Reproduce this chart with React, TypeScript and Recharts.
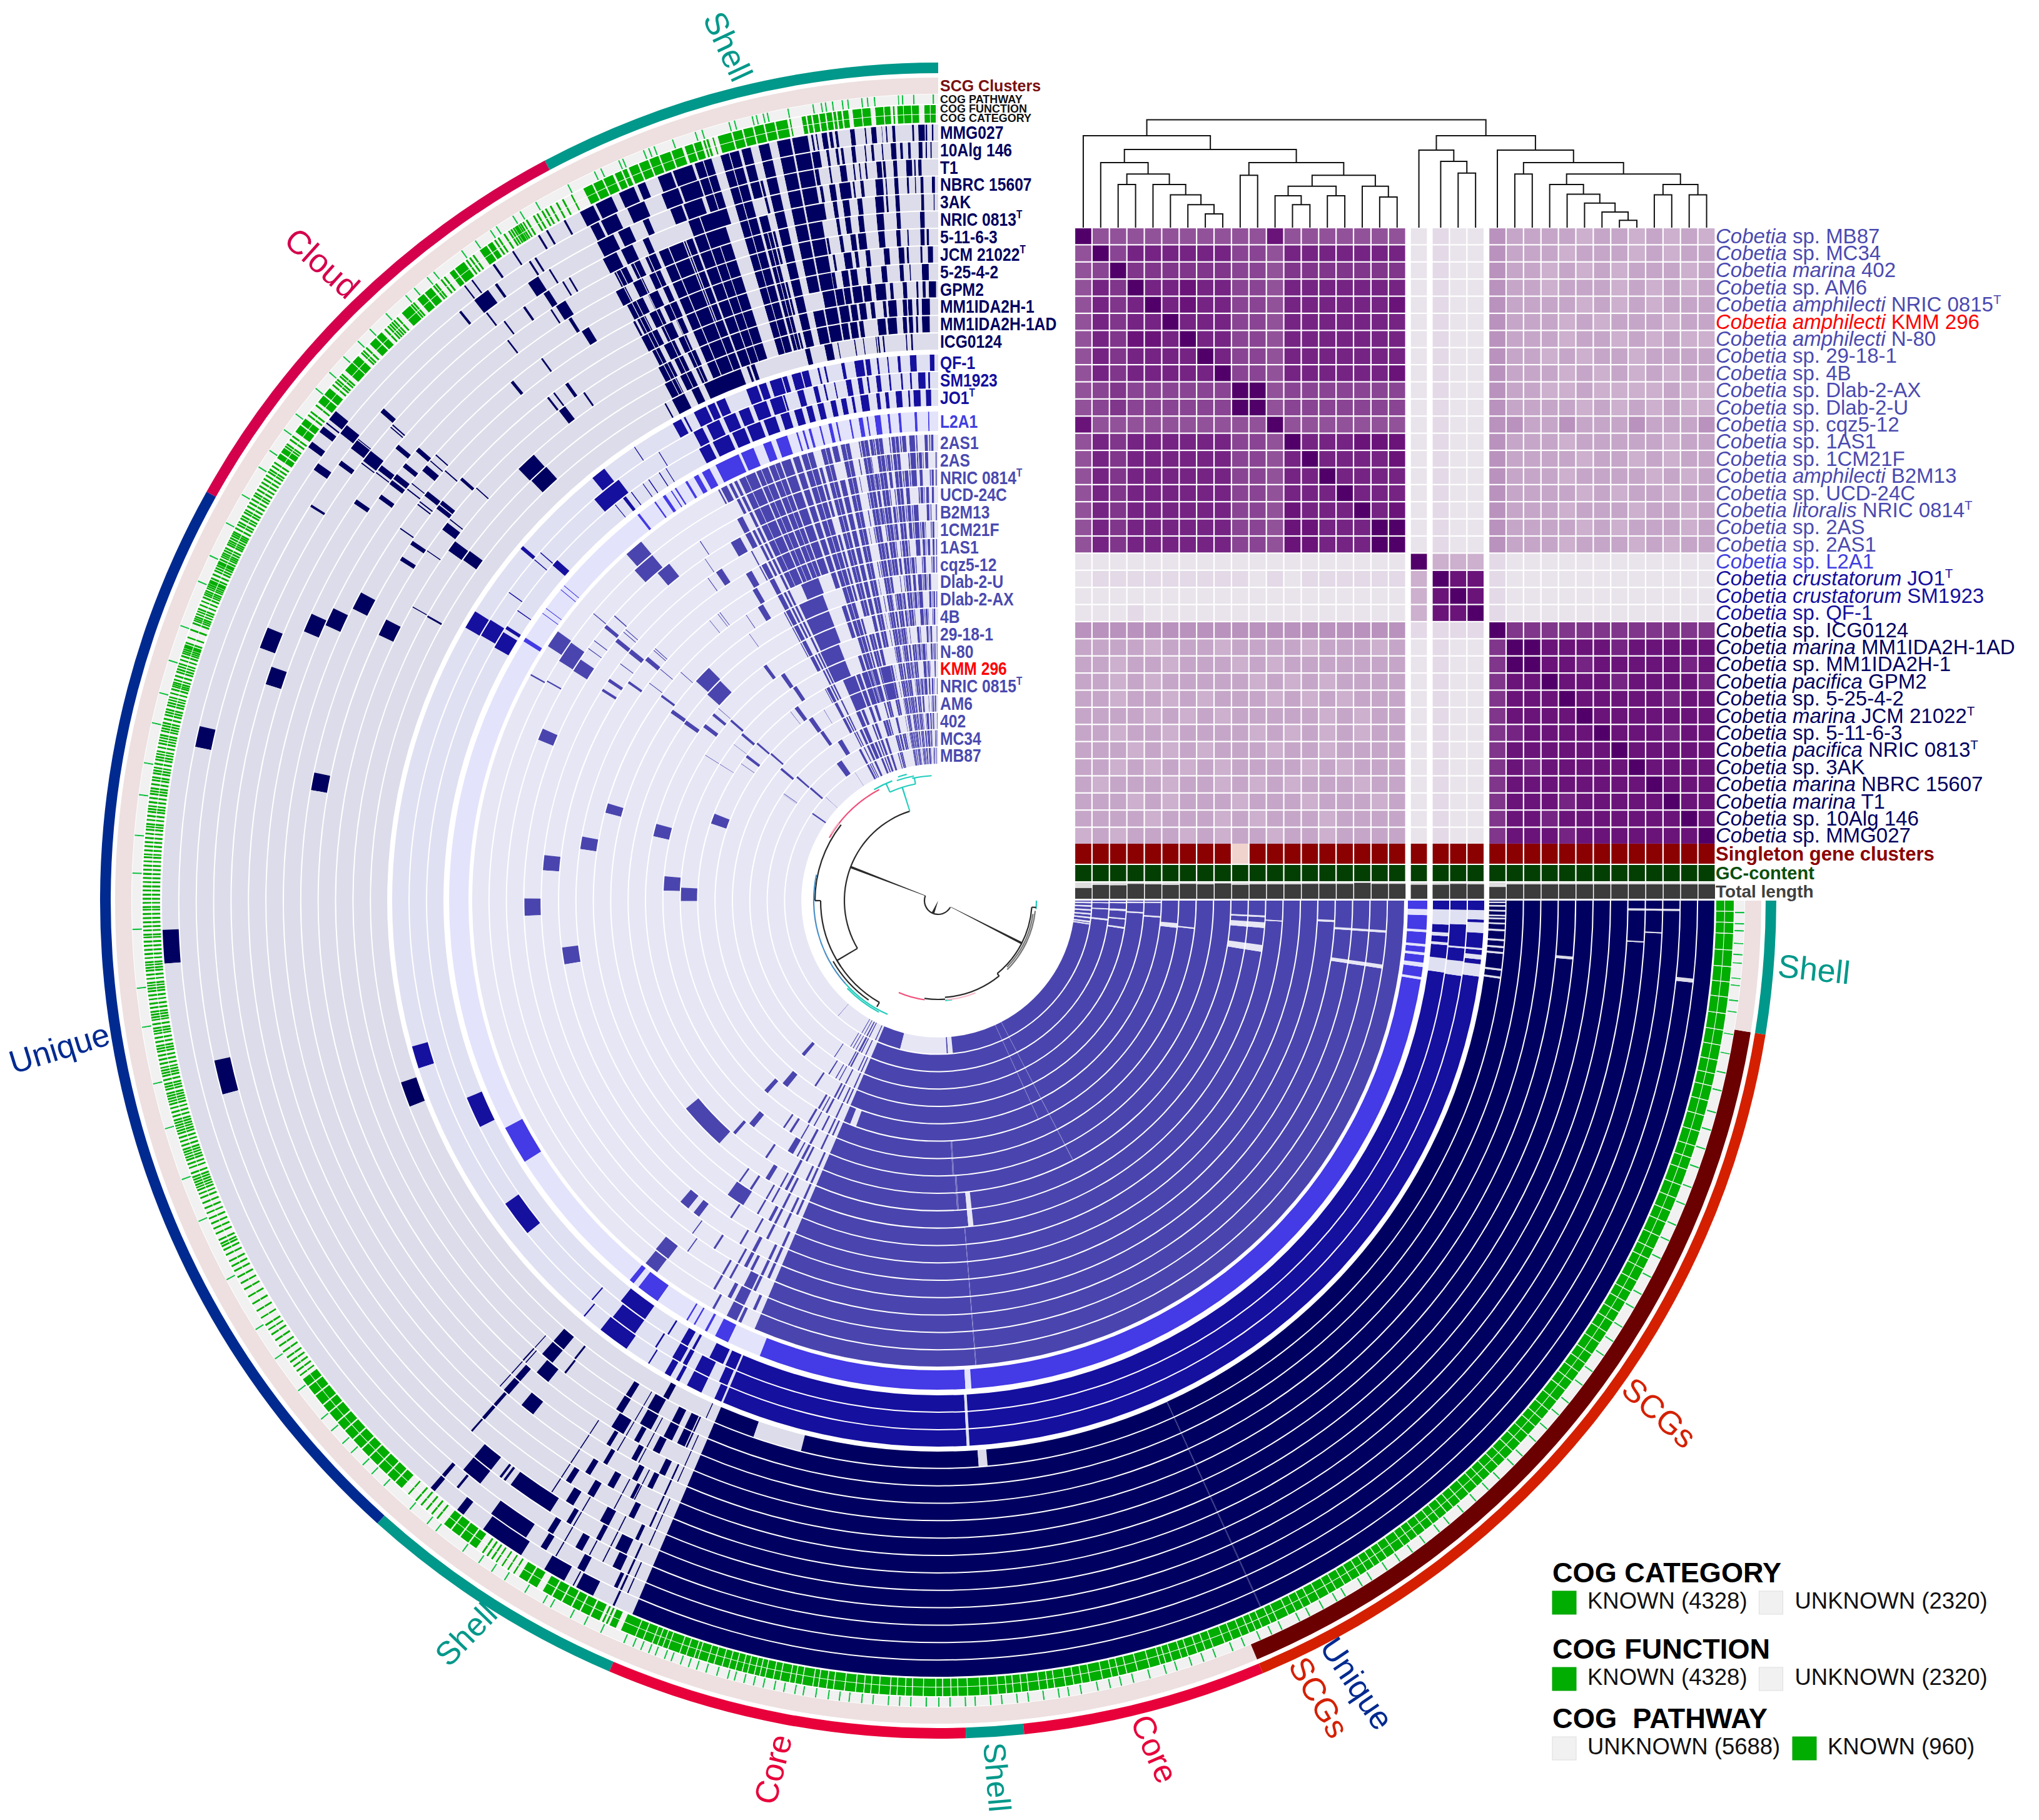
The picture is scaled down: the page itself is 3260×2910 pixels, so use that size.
import React from 'react';
import { PieChart, Pie, ScatterChart, Scatter, XAxis, YAxis, BarChart, Bar } from 'recharts';

// ---------- genomes, outermost ring first ----------
const genomes = ['MMG027','10Alg 146','T1','NBRC 15607','3AK','NRIC 0813^T','5-11-6-3','JCM 21022^T','5-25-4-2','GPM2','MM1IDA2H-1','MM1IDA2H-1AD','ICG0124','QF-1','SM1923','JO1^T','L2A1','2AS1','2AS','NRIC 0814^T','UCD-24C','B2M13','1CM21F','1AS1','cqz5-12','Dlab-2-U','Dlab-2-AX','4B','29-18-1','N-80','KMM 296','NRIC 0815^T','AM6','402','MC34','MB87'];

// ---------- heatmap labels, top row first: [species, strain] ----------
const heatLabels: [string,string][] = [['sp.','MB87'],['sp.','MC34'],['marina','402'],['sp.','AM6'],['amphilecti','NRIC 0815^T'],['amphilecti','KMM 296'],['amphilecti','N-80'],['sp.','29-18-1'],['sp.','4B'],['sp.','Dlab-2-AX'],['sp.','Dlab-2-U'],['sp.','cqz5-12'],['sp.','1AS1'],['sp.','1CM21F'],['amphilecti','B2M13'],['sp.','UCD-24C'],['litoralis','NRIC 0814^T'],['sp.','2AS'],['sp.','2AS1'],['sp.','L2A1'],['crustatorum','JO1^T'],['crustatorum','SM1923'],['sp.','QF-1'],['sp.','ICG0124'],['marina','MM1IDA2H-1AD'],['sp.','MM1IDA2H-1'],['pacifica','GPM2'],['sp.','5-25-4-2'],['marina','JCM 21022^T'],['sp.','5-11-6-3'],['pacifica','NRIC 0813^T'],['sp.','3AK'],['marina','NBRC 15607'],['marina','T1'],['sp.','10Alg 146'],['sp.','MMG027']];

// similarity level per cell (0 = identical, a = most distant)
const heatRows = [
'0555555555515555555 a 9aa 6777787787878',
'5042222224452222222 a 9aa 6777877787877',
'5403333334453333333 a 9aa 6778787877787',
'5230221224452222222 a 9aa 6778777878787',
'5232021224452222221 a 9aa 6777787878777',
'5232202224452222222 a 9aa 6777878777877',
'5231120224452222222 a 9aa 6777877878788',
'5232222024452222222 a 9aa 6778787787777',
'5232222204452222221 a 9aa 6777878787877',
'5434444440054444444 a 9aa 6778878888788',
'5434444440054444444 a 9aa 6777787878788',
'1555555555505555555 a 9aa 6677677767776',
'5232222224450222111 a 9aa 6777877777877',
'5232222224452022221 a 9aa 6777787787877',
'5232222224452202222 a 9aa 6777877778787',
'5232222224452220222 a 9aa 6777787877877',
'5232222224451222021 a 9aa 6777877787787',
'5232222224451122200 a 9aa 6777787877787',
'5232222224451122200 a 9aa 6777877787877',
'aaaaaaaaaaaaaaaaaaa 0 888 9aaaaaaaaaaaa',
'a999999999a9a999999 8 011 9aaaaaaaaaaaa',
'aaaaaaaaaaaaaaaaaaa 8 101 9aaaaaaaaaaaa',
'aaa9aaaaaaaaaaaaaaa 8 110 9aaaaaaaaaaaa',
'6666666666666666666 9 999 0333333333333',
'7777877787777877787 a 9aa 3001111211111',
'7787787778787777777 a 9aa 3001121111121',
'7787877777878787777 a 9aa 3110111211112',
'7787787877787878777 a 9aa 3111011111211',
'7777878787777787877 a 9aa 3111101111111',
'7787787777878787877 a 9aa 3211110111211',
'7778787877787787777 a 9aa 3111111011111',
'7787878787777878777 a 9aa 3121111101111',
'7877787787878777877 a 9aa 3111111110111',
'7778787778777877787 a 9aa 3111211111011',
'7777877787877787777 a 9aa 3112111111101',
'8787778787787787777 a 9aa 3111211111110',
];
const heatLevels: Record<string,string> = {'0':'#520069','1':'#6a147a','2':'#752484','3':'#80368b','4':'#894593','5':'#92529a','6':'#b992bd','7':'#c5a6c8','8':'#ccb0ce','9':'#e3d9e7','a':'#e9e4eb'};

const singletonLevel = [1,1,1,1,1,1,1,1,1,0,1,1,1,1,1,1,1,1,1, 1, 1,1,1, 1,1,1,1,1,1,1,1,1,1,1,1,1];
const totalLengthMb = [2.96,3.82,3.70,4.10,3.99,3.82,4.10,3.99,4.22,3.87,3.99,3.99,3.99,4.10,4.10,4.10,4.39,4.10,4.10, 3.87, 3.87,4.10,3.99, 3.25,3.99,3.99,3.99,3.99,3.99,3.99,3.99,3.99,3.99,3.99,3.99,3.99];

// ---------- genome dendrogram: [left, right, height]; a negative ref is ~index of an earlier merge ----------
const merges: [number,number,number][] = [
[2,3,68.9],[7,8,21.9],[6,~1,36.7],[5,~2,52.6],[4,~3,68.9],[~0,~4,85.7],[1,~5,104],
[9,10,83.7],[12,13,36.7],[11,~8,51],[14,15,51],[~9,~10,66.3],[17,18,49],[16,~12,66.3],[~11,~13,83.7],[~7,~14,104],[~6,~15,125],[0,~16,147],
[21,22,87.2],[20,~18,106],[19,~19,124],
[24,25,85.7],[30,31,11.7],[29,~22,25],[28,~23,39.3],[27,~24,53.6],[26,~25,68.9],[32,33,52.6],[34,35,52.6],[~27,~28,68.9],[~26,~29,85.7],[~21,~30,104],[23,~31,124],[~20,~32,147],
[~17,~33,172.4],
];

// ---------- outer category track: [degrees, colour name] ----------
const trackSpans: [number,string][] = [[28,'teal'],[32.8,'cloud'],[77.2,'unique'],[18.9,'teal'],[25,'core'],[4,'teal'],[16.9,'core'],[58,'scg'],[9.2,'teal']];
const scgSpans: [number,string][] = [[202.8,'pink'],[58,'maroon'],[9.2,'pink']];

// ---------- per-row stripes, flat a0,a1 pairs in degrees from the top, rows 0..12 (navy) ----------
const navyStripes: number[][] = [
[.36,.47,.81,.93,1,1.48,1.79,1.94,3.2,3.42,3.8,3.9,4.15,4.2,4.6,4.98,5.35,5.45,6.2,6.53,7.45,7.65,7.85,8.1,8.25,8.65,9,9.1,9.3,9.45,18.5,20,20.15,21.2,22.2,22.8,23.1,24.3,24.9,26.2,26.4,27.5,28.7,28.85,30.2,30.35,30.9,31.05,33.15,33.3,34.9,35.05],
[.5,.6,.85,.95,1.2,1.5,2.1,2.3,2.7,2.9,3.2,3.6,4.2,4.3,4.9,5.1,5.5,5.6,6.3,6.6,7.2,7.4,7.6,7.8,8.3,8.5,9,9.6,18.4,19.9,20.05,21.4,22.8,24.2,25.1,26.4,26.6,27.3,32,32.15,32.5,32.65,35.6,35.75,39,39.15],
[1.3,1.55,1.75,1.87,2.05,2.5,3.2,3.5,4.1,4.3,4.4,4.8,5.55,5.7,6.05,6.15,6.5,6.62,7.15,7.65,8.35,8.5,9.3,9.6,18.6,20.1,20.25,21.2,23,23.5,24.6,25.6,26,27.4,31.55,31.7,32.7,33.6,37.45,37.6],
[.25,.5,1.17,1.42,1.78,1.85,2.33,2.5,3.17,3.5,4.1,4.2,4.4,5,5.94,6.2,6.65,6.8,7,7.87,8.2,8.67,9.2,9.45,23.6,24.1,25,26,26.4,27.6,30.55,30.7,31.15,31.3,32.55,33.05,34.8,35,36.75,36.9],
[.3,.38,1.16,1.4,3.16,3.5,4.1,4.27,4.45,5.13,6.2,6.6,7.25,7.8,8.25,8.6,9.3,9.7,23.6,24.5,25,25.8,26.2,27.3,31.85,32.75,33.15,33.3,37.45,37.6],
[1.14,1.52,3.15,3.5,4.55,5.16,6.24,6.7,7.34,7.8,8.27,8.54,23.8,24.8,25.4,26.3,27,27.9,32.15,32.45],
[.8,1,1.17,1.53,2.55,2.65,3.24,3.6,4.6,5.13,6.2,6.88,7.07,7.54,8.2,8.5,9.4,9.6,23.7,24.2,24.7,25.6,26.1,27.6,31.35,32.05,36.1,36.25,39.25,39.55],
[.46,.92,1.39,1.57,2.6,2.77,3,3.5,4.3,4.8,6,6.4,7.06,7.35,7.65,8.33,9.1,9.3,23.6,24.8,25.2,26.2,26.6,27.4,27.6,27.8],
[.85,1.48,2.5,2.6,3.13,3.5,4.66,5.16,6.16,6.56,7.36,7.96,8.16,8.76,9.36,9.66,23.7,24.3,24.7,25.8,26.2,27.8,35.55,35.85,37.7,37.9,37.05,37.2],
[.2,.88,1.17,1.46,1.85,2.05,2.92,3.3,4.2,4.5,4.9,5.85,6.3,7,7.16,8,8.2,8.8,8.9,9.6,9.7,10.8,24,24.8,25.2,26.3,26.7,27.5,34.8,34.95],
[.8,1.57,1.9,2.1,2.5,2.9,3,3.4,4,4.8,5,5.3,6.1,6.5,6.94,7.58,7.8,8.4,8.6,9.5,23.8,24.6,25.1,26,26.4,27.7],
[.83,1.6,2,2.2,2.5,2.9,3.1,3.5,4.1,5,5.2,5.5,5.4,6,7.37,7.8,8,8.7,8.9,9.55,23.9,24.5,25,26.2,26.6,27.9],
[2.6,2.78,3.17,3.3,5.5,5.66,6,6.15,6.25,6.35,7.55,7.65,8.45,8.55,10.15,10.25,10.8,11.6,13.1,13.6,18.9,19.3,19.5,19.75,20.4,24.4,25,25.8,26.6,28,28.7,28.85],
];
// ---------- columns shared by rows: a0, a1, one mark per row ----------
const navyColumns: [number,number,string][] = [
[9.7,10.85,'1111111110110'],[11,12,'1111111110110'],[12.6,13.4,'1111111111110'],[13.7,13.9,'0011011011010'],
[14,14.7,'1110111111110'],[14.9,16.3,'1111111111110'],[17,18.3,'1111000000000'],[17.5,20.2,'0001111111110'],[20.35,23.3,'0000111111110'],
[137.9,138,'0000000111100'],[146.8,146.9,'0000111110000'],[149.7,149.8,'0111110011110'],[151.9,152,'1110111011100'],[153.05,153.15,'1011101101100'],[155.2,155.35,'1111011110110'],[155.8,155.9,'0110111011101'],
];
const navyMarks: [number,number,number][] = [
[1,36.4,1.3],[0,37.55,.12],[0,36.85,.12],[0,34.85,.12],[0,33.15,.15],[1,38.95,.12],[2,37.45,.12],[3,36.75,.12],[4,37.45,.12],[1,35.55,.12],[3,34.85,.12],[6,36.15,.12],[6,39.25,.3],
[2,32.65,.9],[3,32.55,.5],[4,31.85,.9],[4,33.15,.12],[5,32.15,.3],[6,31.35,.7],[3,30.55,.12],[3,31.15,.12],[2,31.55,.12],[9,37.05,.7],[8,37.75,.12],[8,37.05,.12],[8,35.55,.3],[9,34.85,.12],
[10,42.2,2],[11,42.1,2],[0,50.9,.8],[0,51.95,.12],[0,52.35,.5],[0,53.75,.5],[1,54.8,.6],[1,51.2,.8],[2,53.6,.4],[2,51.6,.8],[2,51.45,.08],[2,48.4,.4],[3,48.85,.12],[3,49.1,.1],[3,51.6,1],[3,52.75,.1],
[4,51.95,.5],[4,52.65,.1],[4,49.8,.4],[5,52.4,.4],[5,51.75,.5],[5,50.6,.4],[5,48.9,.4],[6,51.55,.12],[6,49.6,.6],[6,49.05,.12],[6,48.35,.12],[7,48.85,.12],[8,48.35,.3],[9,48.15,.12],[6,52.15,.12],
[7,51.25,.5],[7,52.35,.12],[7,52.65,.12],[8,51.1,.4],[8,51.6,.4],[9,52.4,.8],[9,51.95,.12],[10,53.35,1.1],[11,53.25,1.1],[9,55.55,.12],[8,55.6,.4],[7,55.25,.12],[8,57.3,.4],[5,53.9,.4],[4,55.4,.4],[2,57.7,.2],
[7,61.9,1.6],[6,64.2,1.6],[5,65.4,1.6],[9,63,1.6],[3,67.85,1.7],[4,70.65,1.5],[1,76.7,1.6],[8,78.4,1.6],[0,92.15,2.5],[2,102.45,2.7],[12,108.7,2.6],[10,60.75,.1],[11,60.8,.2],
[11,138.85,1.3],[10,138.85,1.3],[9,139.6,1.4],[7,140.45,1.3],[11,141.5,.2],[10,141.6,.2],[11,147.7,.6],[10,147.65,.7],[9,148.15,1.3],[12,151,.6],[11,150.2,1.2],[10,150.3,1.2],
[11,152.9,.8],[10,152.85,.9],[9,152.55,.7],[11,154.3,.8],[10,154.3,.8],[9,150.6,.5],[8,151.2,.5],[8,154,.6],[7,152.1,.5],[7,153.6,.5],[6,150.5,.6],[6,152.7,.3],[5,149.4,.6],[5,153.3,.5],[4,151.4,.8],[4,154.6,.3],
[3,153.5,1],[2,153.95,.7],[1,154.7,.3],[0,152.2,1.4],[0,149.5,1.7],[3,143.8,3.8],[1,143.9,3.2],[0,144.1,3.4],[2,140.15,1.7],[3,140.15,1.7],[3,142.7,.2],[3,143.1,.2],[1,139.15,.3],[0,139.15,.4],[1,140.6,.2],[0,141.7,.6],
[6,138.55,.3],[5,138.55,.3],[4,138.6,.15],[8,138.4,.6],[7,138.4,.6],[9,137.85,.12],[9,138.2,.1],[2,148.2,.5],[3,149.1,.4],[1,148.4,.5],[2,150.7,.6],[3,151.8,.4],[1,151.6,.6],[4,148.2,.7],[5,147.3,.5],[6,148.3,.5],[7,149.2,.4],[8,148.6,.4],
];
const blueStripes: number[][] = [
[.4,.9,2.3,3,4,4.3,5.25,5.4,6.3,6.5,7.2,7.7,7.9,8.85,9.9,10.25,11.9,12.1,12.6,12.8,13.75,14.5,14.6,15.6,16.1,16.6,16.7,18,18.4,19.2,19.4,20.6,23,24,24.2,25,25.2,26.6,27.6,27.8,28.1,29.1,33.75,33.85],
[.9,1.1,1.4,2.2,2.9,3.1,3.9,4.1,5.2,5.4,6.3,6.8,7.6,7.8,8.3,8.8,9.5,10.1,11.25,11.4,12.35,12.55,13.2,13.7,14.8,15.5,16.9,17.1,17.2,18.6,19,20.5,21,22.2,22.6,24,24.5,26,26.5,27.6,31.85,31.95,39.2,40.6,37.2,39.4],
[.8,1.4,2,2.8,3.2,3.4,4.1,4.8,5.6,6,6.6,7,7.9,8.8,9.5,9.8,10.4,11,11.6,12.2,13,13.7,14.3,15,15.5,16.4,17,18,18.6,20,20.4,22,22.3,23.8,24.2,26.2,26.6,27.9,32.15,32.25,33.05,33.15,34.45,34.55,35.25,35.35,36.85,36.95,37.7,38.1,39.15,39.25],
];
const lightStripes = [1.05,1.2,2.5,2.8,4.4,4.7,5.7,5.95,6.8,7.5,8.25,8.45,8.9,9.4,10.3,10.5,11.9,12.1,12.6,13,13.9,14.1,15.1,15.4,15.9,16.15,16.7,16.9,18,19.4,20,21,22.2,23.8,24.1,27.1,29.4,30,27.9,28.9,30.85,31.15,32.4,32.6,33,33.15,33.9,34.3,35.3,35.5,37.65,37.95,49.85,49.95,50.45,50.55,53.25,53.35,53.95,54.05,57.5,58,117.7,122.3,140.9,141.5,142.2,145,152.85,154.55,156.2,157.5,149,149.2,150,150.2,151.5,151.8];
const slateColumns: [number,number,string][] = [
[.6,.9,'1011011101101101011'],[1.3,1.7,'1101101011011011101'],[2.1,2.5,'0111011110110110110'],[2.9,3.6,'1110111011101110111'],[4,4.5,'1011110111011011011'],
[4.9,5.8,'1111111111101111111'],[6.2,6.6,'0110110101101101110'],[6.9,7.8,'1111111101111111111'],[8.1,8.5,'1011101110110111011'],[8.7,9.6,'1111111111111111111'],
[.2,.35,'0110101101011010110'],[1,1.15,'1010110101101011010'],[1.9,2,'0101011010110101101'],[2.6,2.75,'1101010110101101011'],[3.7,3.85,'0110110101011010110'],[4.6,4.75,'1010101101101010101'],[5.95,6.1,'1101101010110110101'],[6.65,6.8,'0101011011010101101'],[7.9,8.05,'1010110101011011010'],[8.55,8.65,'0110101011011010110'],[9.7,9.85,'1001010100101001010'],[10.1,10.25,'0100100101010010100'],[10.5,10.6,'0010010010100100010'],
[11,12.1,'1111111111110111010'],[12.5,13.2,'1011111111111110110'],[13.5,14.6,'1111111111011111011'],[15,15.4,'0111011110111011101'],[15.6,17.1,'1111111111111110100'],[17.4,18.2,'1111111101101111011'],
[18.5,19.7,'1111111000000000000'],[19.85,21.3,'1111111000000000000'],[21.45,23,'1111111000000000000'],[23.15,25.3,'1111111000000000000'],
[20.4,23.5,'0000000100000000000'],[20.7,25.2,'0000000011100000000'],[21.2,25.4,'0000000000011000000'],[12,17,'0000000000000110000'],[17.2,20,'0000000000000110000'],[20.3,23.4,'0000000000000110000'],
[19,19.8,'0000000000000001111'],[20.2,20.7,'0000000000000000111'],[21.2,22,'0000000000000001011'],[22.4,23.6,'0000000000000001110'],[24,24.8,'0000000000000000111'],
[25.6,26,'1111111111111111111'],[26.3,26.7,'1101110111011101101'],[27,27.8,'1011011111110111011'],[28,28.2,'1000110011100100000'],
[149.9,150.2,'0110101100110101011'],[151,151.3,'1011010110101101011'],[152,152.5,'0101101011110110111'],[153,153.4,'1101011110101011011'],[154.6,155,'1011101101011110110'],[155.6,156,'0101110111101011101'],
];
const slateMarks: [number,number,number][] = [
[17,39.6,2.4],[18,39.6,3],[19,38.6,2],[20,28.6,1.5],[21,33.1,1],[22,29.5,1],[23,30.1,.8],[24,30.6,1],[19,33.45,.12],[20,34.25,.12],[21,35.45,.12],[23,37.1,.12],[23,37.5,.1],[24,33.85,.12],[23,39.15,.12],[25,35.25,.12],
[27,36.05,.7],[28,34.05,.9],[29,33.45,.9],[30,35.8,1],[31,34.4,1.2],[33,30.85,1.5],[34,34.6,2],[30,37.95,.12],[31,30.85,.12],[32,34.1,1],[35,32.95,.12],
[17,54.7,2.2],[18,54.9,2.8],[19,56,1.8],[17,60.9,.2],[18,60.6,.2],[21,55.95,.5],[21,57.7,.4],[22,54.6,.4],[19,52.85,.12],[19,54.15,.12],[19,50.25,.5],[20,50.7,.6],[21,50.65,.7],[22,49.95,.7],[20,49.45,.12],[22,48.25,.12],[21,53.25,.12],[23,50.15,.12],[23,52.95,.12],[24,53.3,.4],[25,54.25,.7],[26,54.4,.8],[27,52.8,.8],[25,44.55,3.3],[26,44.75,3.5],[24,48.35,.12],
[27,50.1,.6],[27,48.75,.12],[28,48.75,.5],[29,49.4,.6],[29,52.55,.12],[30,48.75,.5],[30,52.65,.7],[31,48.45,.5],[32,49.65,.7],[33,48.5,.6],[34,48.25,.7],[35,47.35,.12],[33,55.2,.2],[33,55.6,.1],[35,55,.6],[30,55.15,.12],[28,57.95,.12],[29,57.95,.12],[19,48.6,.15],[18,50.15,.12],[20,49,.12],[22,48.6,.12],
[19,66.5,1.6],[24,73.6,1.6],[23,79.8,2],[21,83.4,2.2],[27,74.75,2.5],[20,89.7,2.4],[22,97.1,2.6],[28,84.9,3],[29,87.1,3],[30,68.75,2.5],
[25,129.5,8.5],[21,139.45,1.5],[21,141.9,1],[23,144.4,3],[18,141,2],[17,141.1,1.8],[27,139.7,1.2],[30,139.55,1.5],[29,137.5,1],[32,138.3,1],[26,138.5,.6],[27,149,1],[25,148.1,.8],[19,153.2,1.2],[18,153.2,1.2],[17,153.25,1.1],
[34,148.9,.3],[33,146.3,.3],[35,139,.15],[34,152.3,.4],[35,153,.3],[33,151.3,.4],[32,147.6,.4],[31,146.2,.5],[30,150,.4],[29,149.5,.5],[28,147.2,.5],[28,145.6,.4],[26,146,.4],[24,144.6,.3],[22,146.7,.3],[20,147.1,.3],[24,146.8,.4],[20,143.5,.15],[19,144.4,.15],
];
// pale breaks: rowFrom, rowTo, a0, a1
const coreGaps: [number,number,number,number][] = [
[35,35,165.6,183.2],[35,35,183.7,185.5],[35,35,269,269.6],[35,35,267.7,268.3],[35,35,266.2,266.8],[35,35,264.7,265.3],[35,35,263.3,263.9],[35,35,261.8,262.4],[35,35,261,261.5],
[34,34,269.1,269.5],[34,34,267,267.4],[34,34,263.3,263.9],[33,33,269.2,269.6],[33,33,266.8,267.4],[33,33,264.2,264.6],[33,33,261.4,261.9],[32,32,269.3,269.7],[32,32,266.4,266.8],[31,31,269.4,269.7],[31,31,265.6,266],
[30,30,158.5,160],[30,30,263.5,264.6],[29,29,263.7,264],[25,26,265.2,266.2],[25,26,267.1,267.4],[25,26,261,262.2],[24,24,266.5,266.7],[18,20,265.9,266.2],[18,20,261.3,261.8],[21,21,266.9,267.2],
[16,16,268.3,269],[16,16,266.3,266.6],[16,16,264.6,264.9],[16,16,263.6,263.9],[16,16,262.2,262.7],[16,16,260.7,261],[16,16,183.2,183.9],[16,16,156,158.6],
[15,15,267.3,269],[15,15,266,266.4],[15,15,265,265.3],[15,15,261.9,263.5],[14,14,267.4,269],[14,14,264.8,265],[14,14,261.8,263.4],[13,13,268,269],[13,13,266.6,267.7],[13,13,264.8,265],[13,13,263.8,264.3],[13,13,262,263.3],[13,15,183,183.3],
[12,12,161,166],[12,12,184.1,185],[12,12,269.75,269.9],[12,12,269.4,269.55],[12,12,268.9,269.05],[12,12,268.4,268.55],[12,12,268.1,268.25],[12,12,267.6,267.75],[12,12,266.9,267.1],[12,12,265.9,266.1],[12,12,265.2,265.4],[12,12,264.6,264.8],[12,12,262.9,263.1],[12,12,262.1,262.3],
[8,8,264.7,264.95],[1,1,263.8,264.1],[2,4,269.2,269.35],[4,4,266.6,266.7],[3,3,267.4,267.5],
[25,26,185.3,186.2],
[3,11,19.2,19.28],[4,11,21.1,21.18],[4,11,22.4,22.48],[4,8,20.9,20.98],[0,11,15.6,15.66],[0,2,17.6,17.66],[5,11,18.4,18.46],[4,11,24.2,24.26],[4,11,25.5,25.56],[4,11,26.7,26.76],[4,11,27.1,27.16],[5,11,14.3,14.35],
[17,35,5.3,5.36],[17,35,7.35,7.4],[17,35,9.15,9.2],[17,35,16.3,16.38],[17,35,11.5,11.56],[17,35,14,14.06],[17,23,22.3,22.36],[17,23,24.4,24.46],[17,23,20.5,20.56],[30,31,14.4,14.9],[30,31,18.6,19],[30,31,16,16.1],
];
// barely visible radial hairlines through the core: rowFrom, rowTo, a0, a1
const faintLines: [number,number,number,number][] = [[27,35,207.4,207.5],[30,35,204.6,204.7],[0,12,204.5,204.58],[28,29,183,183.3],[26,27,183.5,183.8],[17,24,184.6,184.7]];
// ---------- COG rings: runs a0,a1 near the top and in dense stretches, thin marks elsewhere, thin breaks through the core ----------
const cogRuns = [.18,.55,.6,1,1.4,1.9,1.95,2.5,2.55,2.96,3.15,3.27,3.45,3.9,3.95,4.56,4.9,5.5,5.55,6.2,6.5,6.9,7,7.3,7.4,7.6,7.7,8.1,8.2,8.6,8.7,9.1,9.2,9.5,9.6,9.9,10.7,10.8,10.95,11.8,11.9,12.6,12.7,13.4,13.5,14.2,14.3,15,15.1,16.1,16.4,16.5,16.8,16.95,17.05,17.2,17.35,17.9,18,18.6,18.8,19.6,19.7,20.5,20.6,21.3,21.4,22.1,22.2,22.9,23.05,23.4,23.5,24,24.15,24.9,25,25.7,25.8,26.5,34.1,34.5,34.6,35.2,36.6,37.4,37.5,37.9,39.6,40.2,40.3,40.9,41.6,42.4,44.4,44.9,45,45.6,46.8,47.4,47.45,48.2,49.9,50.5,50.6,51.2,52.7,53.2,53.3,53.9,55.3,55.7,55.8,56.2,127,127.6,127.7,128.4,128.5,129.3,129.4,130,130.1,130.9,131,131.7,131.8,132.6,132.7,133.5,133.6,134.3,134.4,135.2,135.3,136.1,136.2,136.9,137,137.6,141.6,142.2,142.3,143,143.1,143.8,143.9,144.5,148.2,148.9,149,149.7,150.2,150.9,151,151.7,151.8,152.5,152.6,153.2,153.3,154,154.1,154.8,155.6,156.1];
const cogMarks = [27.4,28.1,28.6,29.1,29.5,29.8,30.2,30.5,31.1,31.4,31.6,31.75,31.9,32.05,32.2,32.4,32.6,33,33.5,33.8,35.7,36,36.3,38.3,38.6,39.1,39.3,41.2,41.4,42.8,43.1,43.3,43.5,43.7,44,45.9,46.2,46.4,48.5,48.7,49,49.2,49.5,51.4,52,52.3,54.2,54.5,54.9,55.1,56.5,56.8,57.1,57.3,57.6,57.9,58.2,58.5,58.8,59.1,59.3,59.6,59.9,60.2,60.5,60.7,61,61.2,61.5,61.7,62,62.3,62.45,62.6,62.8,63,63.15,63.3,63.6,63.8,64,64.15,64.3,64.5,64.7,64.85,65,65.2,65.4,65.7,66,66.2,66.35,66.5,66.65,66.8,67,67.15,67.3,67.5,67.8,68.1,68.4,68.6,68.8,69,69.15,69.3,69.5,70,70.6,71,71.2,71.35,71.5,71.65,71.8,72,72.3,72.6,72.8,73,73.2,73.5,73.8,74,74.15,74.3,74.5,74.8,75.1,75.3,75.5,75.7,76,76.2,76.4,76.7,77,77.2,77.4,77.6,77.9,78.1,78.3,78.5,78.8,79.1,79.3,79.5,79.7,80,80.3,80.5,80.7,81,81.2,81.5,81.8,82,82.2,82.5,82.8,83.1,83.3,83.5,83.8,84.1,84.4,84.6,84.8,85.1,85.4,85.7,86,86.3,86.6,86.8,87.1,87.4,87.7,88,88.3,88.6,88.9,89.2,89.5,89.8,90.1,90.4,90.6,90.9,91.2,91.5,91.8,92.1,92.4,92.6,92.9,93.2,93.5,93.8,94.1,94.4,94.6,94.8,95,95.3,95.6,95.9,96.1,96.3,96.5,96.8,97.1,97.4,97.7,98,98.2,98.4,98.6,98.9,99.2,99.4,99.6,99.9,100.2,100.5,100.7,100.9,101.2,101.5,101.8,102.1,102.3,102.5,102.7,103,103.3,103.5,103.7,104,104.2,104.4,104.6,104.8,105.1,105.4,105.7,106,106.2,106.4,106.6,106.8,107,107.3,107.6,107.9,108.2,108.4,108.6,108.8,109,109.3,109.6,110,110.3,110.5,110.7,110.9,111.1,111.3,111.6,111.9,112.3,112.7,113.1,113.5,113.9,114.3,114.7,115.2,115.5,115.7,116,116.4,116.9,117.3,117.7,118.2,118.7,119.2,119.8,120.4,121,121.6,122.2,122.6,123,123.5,124,124.5,125,125.4,125.8,126.2,126.6,138.2,138.9,139.4,139.9,140.4,140.9,145,145.4,145.8,146.2,146.7,147.2,147.7,155,155.3];
const cogCoreBreaks = [157.6,158.2,158.9,159.3,159.7,160.1,161,161.5,162.1,162.4,163.1,163.6,164.2,164.7,165.2,165.7,166.1,166.6,167,167.4,168,168.5,169.2,169.6,170.1,170.9,171.3,171.9,172.4,173.2,174,174.6,175.1,175.7,176.5,177,177.6,178.1,178.9,179.8,180.3,180.9,181.4,182.1,183,183.6,184.3,184.9,185.4,186,186.5,187.3,187.9,188.4,189.2,189.8,190.4,191,191.9,192.6,193.1,193.7,194.5,195.4,196.2,196.6,197.1,197.8,198.3,199,199.6,200.2,201.1,201.7,202.4,203,203.5,204,204.7,205.2,206.1,206.7,207.3,207.9,208.6,209.4,210,210.7,211.3,212,212.6,213.2,213.7,214.3,215,215.8,216.4,217,217.7,218.4,219,219.7,220.3,221,221.8,222.6,223.2,223.9,224.7,225.4,226.2,227,227.8,228.6,229.3,230.1,231,232,232.8,233.6,234.4,235.2,236.2,237.1,238,238.8,239.7,240.5,241.4,242.4,243.2,244,245,246.1,247,248,249,250.2,251.1,252,253.1,254.3,255.4,256.5,257.4,258.4,259.5,260.6,261.8,263,264.1,265.2,266.4,267.6,268.4,269.2];
const pathwayMarks = [.3,1.7,2.5,2.8,4.5,5,5.4,6.4,6.8,7.5,8,8.3,8.9,10.7,12.2,12.5,13,13.3,14.6,15,17,17.5,19.2,20.6,21,21.4,23,23.3,24.7,25.2,27.3,29.9,31.2,31.8,33.2,33.7,35,36.2,38.7,39.3,40.5,41.3,43.2,44.8,46,47.5,49,50.5,52.8,54.2,56,57.4,59.7,62,64.6,66.6,70,72.6,75,77.2,80.1,82.4,85.3,88,92,96.2,99,103.1,106.4,110.2,113.4,118,122.1,124.6,127.4,130,131.1,132.3,133.2,134.4,135.3,136.5,139,140.6,141.4,143.8,145.2,146.3,147.4,149.1,150.6,151.2,152.8,153.9,155.2,157,157.7,158.3,158.9,159.4,160.1,160.6,161.3,161.9,162.5,163.2,164,164.8,165.3,166,166.7,167.4,168.2,168.9,169.7,170.3,171.2,172.1,172.9,173.6,174.5,175.3,176.4,177.2,178,179.1,180,180.8,181.9,182.6,183.7,184.5,185.6,186.4,187.5,188.6,189.3,190.2,191.4,192.3,193.1,194,195.2,196.4,197.2,198.3,199.2,200.1,201.4,202.3,203.5,204.4,205.2,206.6,207.4,208.5,209.6,210.3,211.7,212.5,213.8,214.9,216,217.1,218.4,219.3,220.6,221.8,223,224.1,225.5,226.4,227.8,229,230.3,231.4,233,234.2,235.6,236.8,238,239.6,240.7,242.1,243.6,245,246.2,247.8,249.1,250.6,252,253.4,254.7,256.3,257.6,259,260.4,262,262.8,263.9,264.4,265.5,266.1,266.9,267.8,268.3,269.1];
// ---------- pan-gene cluster tree at the centre: [depth, from, to, colour name] and [angle, depth0, depth1, colour name] ----------
const treeArcs: [number,number,number,string][] = [
[22,69,241,'ink'],[150,17.7,120.6,'ink'],[188,120,150,'ink'],[197,52,90,'ink'],[188,90,124,'ink'],[194,120,145,'ink'],[150,219,266,'ink'],[155,184,219,'ink'],[158,172,184,'ink'],[156,225,264,'grey'],[153,226,262,'grey'],
[190,11,24,'aqua'],[200,3,12,'aqua'],[205,21,30,'aqua'],[203,11,19,'aqua'],[208,14,18,'aqua'],[199,132,156,'aqua'],[202,134,152,'aqua'],[157,265,270,'aqua'],[160,184,188,'aqua'],
[201,28,60,'rose'],[160,156.8,172.2,'rose'],[159,185,202,'paleRose'],[199,78,132,'steel'],[202,52,58,'paleRose'],
];
const treeSpokes: [number,number,number,string][] = [[157.4,0,22,'ink'],[69,22,150,'ink'],[243,22,150,'ink'],[17.6,150,190,'aqua'],[120.6,150,188,'ink'],[90,188,197,'ink'],[150,188,196,'ink'],[219,150,155,'ink'],[266,150,157,'ink'],[24,190,205,'aqua'],[11,190,200,'aqua']];

const paint: Record<string,string> = {teal:'#00988a',cloud:'#d4004c',unique:'#002a90',core:'#e8003a',scg:'#d42000',pink:'#eee0e0',maroon:'#6b0000',ink:'#2a2a2a',grey:'#777777',aqua:'#22cdbd',rose:'#f0507a',paleRose:'#f8b8c8',steel:'#4a90c8'};

// ---------- geometry ----------
const CX = 1500, CY = 1440, CELLS = 50, SWEEP = 270;
const rowGroup = (i:number) => i<13?0:i<16?1:i===16?2:3;
const groupBase = ['#dcdcea','#dfe0f2','#e3e4fb','#e6e6f5'];
const groupFill = ['#000060','#16109f','#443ae6','#4a45ae'];
const groupFaint = ['#2a2a80','#3a36b0','#6a60ee','#7672c4'];
const labelFill = ['#00005f','#14109e','#3f3fe0','#4a4ab0'];
function rowOuter(i:number){ if(i<13) return 1242-27.85*i; if(i<16) return 874-28*(i-13); if(i===16) return 783; return 746-27.8*(i-17); }
function rowHeight(i:number){ return i<13?27.85:i<16?28:i===16?33:27.8; }
const rowMid = (i:number)=> rowOuter(i)-rowHeight(i)/2;

function rasterToSectors(cells:Uint8Array, colours:string[]){
  const out:{v:number,fill:string}[]=[]; let s=0;
  for(let i=1;i<=cells.length;i++){ if(i===cells.length||cells[i]!==cells[s]){ out.push({v:(i-s)/CELLS,fill:colours[cells[s]]}); s=i; } }
  return out;
}
function mark(cells:Uint8Array,a0:number,a1:number,code:number){
  const i0=Math.max(0,Math.round(a0*CELLS)), i1=Math.min(cells.length,Math.max(i0+1,Math.round(a1*CELLS)));
  for(let i=i0;i<i1;i++) cells[i]=code;
}
const blueMarks: [number,number,number][] = [
[13,37.7,1.6],[14,37.2,2.2],[14,39.1,1.4],[15,37.7,.4],[15,36.85,.12],[15,39.15,.12],[15,35.25,.12],[15,34.45,.12],[15,33.05,.12],[15,32.15,.12],[13,49.5,.4],[14,48.75,.12],[14,49.75,.12],[15,48.2,.8],[14,54.25,.12],[15,55.35,.12],
[13,58,2],[14,57.9,2],[15,58.3,2],[15,57.5,.4],[13,105.5,2.4],[15,112.7,3.6],[14,125,4],
[13,141.8,3.4],[14,142,3],[15,141.6,3.4],[15,153.4,1.7],[14,152.6,1.7],[13,152.6,1.7],[15,149.75,.9],[14,149.8,1],[13,149.95,.7],[15,155.4,1.2],[14,155.5,1],[13,155.8,.8],[15,151.2,.3],[14,151.1,.5],[13,151.3,.4],[15,148,.2],[14,147.6,.2],[13,147.9,.15],[14,139,.15],[13,139.5,.15],
];
function ringFor(i:number){
  const g=rowGroup(i); const cells=new Uint8Array(SWEEP*CELLS);
  const offset=[0,13,16,17][g]; const k=i-offset;
  const flat = g===0?navyStripes[k]:g===1?blueStripes[k]:g===2?lightStripes:[];
  for(let j=0;j+1<flat.length;j+=2) mark(cells,flat[j],flat[j+1],1);
  const cols = g===0?navyColumns:g===3?slateColumns:[];
  cols.forEach(c=>{ if(c[2][k]==='1') mark(cells,c[0],c[1],1); });
  if(g===0) navyMarks.forEach(m=>{ if(m[0]===i) mark(cells,m[1],m[1]+m[2],1); });
  if(g===1) blueMarks.forEach(m=>{ if(m[0]===i) mark(cells,m[1],m[1]+m[2],1); });
  if(g===3) slateMarks.forEach(m=>{ if(m[0]===i) mark(cells,m[1],m[1]+m[2],1); });
  mark(cells,156.8,SWEEP,1);
  coreGaps.forEach(c=>{ if(i>=c[0]&&i<=c[1]) mark(cells,c[2],c[3],0); });
  faintLines.forEach(c=>{ if(i>=c[0]&&i<=c[1]) mark(cells,c[2],c[3],2); });
  return rasterToSectors(cells,[groupBase[g],groupFill[g],groupFaint[g]]);
}

function cogRing(){
  const cells=new Uint8Array(SWEEP*CELLS);
  for(let j=0;j+1<cogRuns.length;j+=2) mark(cells,cogRuns[j],cogRuns[j+1],1);
  cogMarks.forEach(a=>mark(cells,a,a+.13,1));
  mark(cells,156.5,SWEEP,1);
  cogCoreBreaks.forEach(a=>mark(cells,a,a+.06,0));
  return rasterToSectors(cells,['#f1f1f1','#00ad00']);
}
function pathwayRing(){
  const cells=new Uint8Array(SWEEP*CELLS);
  pathwayMarks.forEach(a=>mark(cells,a,a+.09,1));
  return rasterToSectors(cells,['#f1f1f1','#10c040']);
}
const spansToSectors=(s:[number,string][])=>s.map(([v,c])=>({v,fill:paint[c]}));

const rings = genomes.map((_,i)=>({outer:rowOuter(i)-1,inner:rowOuter(i)-rowHeight(i)+1,data:ringFor(i)}));
const cogData = cogRing(), pathData = pathwayRing();

const RadialPie=({data,inner,outer,from=0,to=SWEEP,k}:any)=>(
  <Pie key={k} data={data} dataKey="v" cx={CX} cy={CY} innerRadius={inner} outerRadius={outer} startAngle={90+from} endAngle={90+to} stroke="none" isAnimationActive={false} labelLine={false} label={false}/>
);

function Circular(){
  const pies:any[]=[];
  pies.push(RadialPie({k:'trk',data:spansToSectors(trackSpans),inner:1323,outer:1340}));
  pies.push(RadialPie({k:'scg',data:spansToSectors(scgSpans),inner:1290,outer:1316}));
  pies.push(RadialPie({k:'path',data:pathData,inner:1274,outer:1289}));
  pies.push(RadialPie({k:'func',data:cogData,inner:1258,outer:1272}));
  pies.push(RadialPie({k:'cat',data:cogData,inner:1244,outer:1257}));
  rings.forEach((r,i)=>pies.push(RadialPie({k:'g'+i,data:r.data,inner:r.inner,outer:r.outer})));
  treeArcs.forEach(([d,a,b,c],i)=>pies.push(RadialPie({k:'a'+i,data:[{v:1,fill:paint[c]}],inner:d-1.1,outer:d+1.1,from:a,to:b})));
  treeSpokes.forEach(([a,d0,d1,c],i)=>{ const w=1.1/((d0+d1)/2)*57.3; pies.push(RadialPie({k:'s'+i,data:[{v:1,fill:paint[c]}],inner:d0,outer:d1,from:a-w,to:a+w})); });
  return <PieChart width={3260} height={2910} margin={{top:0,right:0,bottom:0,left:0}}>{pies}</PieChart>;
}

// ---------- heatmap ----------
const HEAT_W=1024.5, UNITS=36.75, COL=HEAT_W/UNITS, HEAT_H=986, ROW=HEAT_H/36;
const colPos=(c:number)=>c+(c>=19?.25:0)+(c>=20?.25:0)+(c>=23?.25:0)+.5;
const heatCells=heatRows.flatMap((row,r)=>row.replace(/ /g,'').split('').map((lv,c)=>({x:colPos(c),y:r+.5,color:heatLevels[lv]})));
const singletonCells=singletonLevel.map((v,c)=>({x:colPos(c),y:.5,color:v?'#8b0000':'#f1d3ce'}));
const gcCells=singletonLevel.map((_,c)=>({x:colPos(c),y:.5,color:'#033f03'}));
const lengthBars=totalLengthMb.map((len,c)=>({x:colPos(c),len}));

const axes=(h:number,rev=true)=>[
  <XAxis key="x" type="number" dataKey="x" domain={[0,UNITS]} hide allowDataOverflow/>,
  <YAxis key="y" type="number" dataKey="y" domain={[0,h]} hide reversed={rev} allowDataOverflow/>,
];
const cellShape=(h:number)=>(p:any)=><rect x={p.cx-(COL-2.2)/2} y={p.cy-h/2} width={COL-2.2} height={h} fill={p.payload.color}/>;
const NoDot=()=><g/>;

function Dendro(){
  const lx:number[]=[], ly:number[]=[]; const links:any[]=[];
  const xOf=(r:number)=>r>=0?colPos(r):lx[~r]; const yOf=(r:number)=>r>=0?0:ly[~r];
  merges.forEach(([a,b,h],i)=>{
    lx[i]=(xOf(a)+xOf(b))/2; ly[i]=h;
    links.push([{x:xOf(a),y:yOf(a)},{x:xOf(a),y:h},{x:xOf(b),y:h},{x:xOf(b),y:yOf(b)}]);
  });
  return <ScatterChart width={HEAT_W} height={184} margin={{top:0,right:0,bottom:0,left:0}}>
    {axes(184,false)}
    {links.map((d,i)=><Scatter key={i} data={d} line={{stroke:'#111',strokeWidth:2}} lineType="joint" shape={NoDot} isAnimationActive={false}/>)}
  </ScatterChart>;
}
const place=(left:number,top:number):React.CSSProperties=>({position:'absolute',left,top});
const HEAT_X=1717.5;

// ---------- text ----------
const FONT='"Liberation Sans", Arial, sans-serif';
function withSup(s:string){ const [m,t]=s.split('^'); return t?<>{m}<tspan dy={-12} fontSize="62%">{t}</tspan></>:m; }
const ringWords:[string,number,number,number,number,string][]=[
['Shell',1160,76,65,52,'teal'],['Cloud',512,424,42,53,'cloud'],['Unique',96,1680,-17,52,'unique'],['Shell',748,2616,-46,52,'teal'],['Core',1240,2830,-76,52,'core'],['Shell',1590,2842,85,50,'teal'],['Core',1842,2798,66,52,'core'],['SCGs',2105,2716,60,52,'scg'],['Unique',2166,2694,56,52,'unique'],['SCGs',2650,2262,42,52,'scg'],['Shell',2900,1554,6,52,'teal'],
];
const legendBlocks:[string,number,[string,string][]][]=[
['COG CATEGORY',2530,[['KNOWN (4328)','#00ad00'],['UNKNOWN (2320)','#f1f1f1']]],
['COG FUNCTION',2652,[['KNOWN (4328)','#00ad00'],['UNKNOWN (2320)','#f1f1f1']]],
['COG  PATHWAY',2763,[['UNKNOWN (5688)','#f1f1f1'],['KNOWN (960)','#00ad00']]],
];
const ringTitles:[string,number,number,string][]=[['SCG Clusters',146,25,'#7a1010'],['COG PATHWAY',165,18,'#111'],['COG FUNCTION',180,18,'#111'],['COG CATEGORY',195,18,'#111']];

function Overlay(){
  return <svg width={3260} height={2910} style={{position:'absolute',left:0,top:0,pointerEvents:'none'}} fontFamily={FONT}>
    {ringWords.map(([t,x,y,rot,size,c],i)=><text key={i} transform={`translate(${x},${y}) rotate(${rot})`} textAnchor="middle" dominantBaseline="middle" fontSize={size} fill={paint[c]}>{t}</text>)}
    {ringTitles.map(([t,y,s,c],i)=><text key={i} x={1503} y={y} fontSize={s} fontWeight="bold" fill={c} style={{whiteSpace:'pre'}}>{t}</text>)}
    {genomes.map((g,i)=>{ const y=CY-rowMid(i)+10; const c=g==='KMM 296'?'#ff0000':labelFill[rowGroup(i)];
      return <text key={i} transform={`translate(1503,${y}) scale(0.85,1)`} fontSize={29} fontWeight="bold" fill={c}>{withSup(g)}</text>; })}
    {heatLabels.map(([sp,st],i)=>{ const y=364+ROW*(i+.5)+11; const g=i<19?3:i===19?2:i<23?1:0; const c=st==='KMM 296'?'#ff0000':labelFill[g];
      return <text key={i} x={2743} y={y} fontSize={33} fill={c} style={{whiteSpace:'pre'}}><tspan fontStyle="italic">Cobetia</tspan>{' '}{sp==='sp.'?'sp.':<tspan fontStyle="italic">{sp}</tspan>}{' '}{withSup(st)}</text>; })}
    <text x={2743} y={1376} fontSize={31} fontWeight="bold" fill="#8b0000">Singleton gene clusters</text>
    <text x={2743} y={1406} fontSize={29} fontWeight="bold" fill="#0b4f0b">GC-content</text>
    <text x={2743} y={1435} fontSize={28} fontWeight="bold" fill="#404040">Total length</text>
    {legendBlocks.map(([title,y,items],b)=><g key={b}>
      <text x={2482} y={y} fontSize={44} fontWeight="bold" fill="#000" style={{whiteSpace:'pre'}} textLength={title==='COG CATEGORY'?366:title==='COG FUNCTION'?348:344} lengthAdjust="spacingAndGlyphs">{title}</text>
      {items.map(([t,c],j)=>{ const sx=j===0?2482:(b===2?2866:2812.5); const tx=j===0?2538:(b===2?2922:2869.5);
        return <g key={j}><rect x={sx} y={y+14} width={38} height={37} fill={c} stroke={c==='#f1f1f1'?'#dddddd':'#00a000'} strokeWidth={1}/><text x={tx} y={y+42} fontSize={36.5} fill="#111">{t}</text></g>; })}
    </g>)}
  </svg>;
}

export default function App(){
  return <div style={{position:'absolute',left:0,top:0,width:3260,height:2910,background:'#fff',overflow:'hidden'}}>
    <div style={place(0,0)}><Circular/></div>
    <div style={place(HEAT_X,180)}><Dendro/></div>
    <div style={place(HEAT_X,364)}>
      <ScatterChart width={HEAT_W} height={HEAT_H} margin={{top:0,right:0,bottom:0,left:0}}>
        {axes(36)}
        <Scatter data={heatCells} shape={cellShape(ROW-2.2)} isAnimationActive={false}/>
      </ScatterChart>
    </div>
    <div style={place(HEAT_X,1349)}>
      <ScatterChart width={HEAT_W} height={32} margin={{top:0,right:0,bottom:0,left:0}}>
        {axes(1)}
        <Scatter data={singletonCells} shape={cellShape(32)} isAnimationActive={false}/>
      </ScatterChart>
    </div>
    <div style={place(HEAT_X,1383)}>
      <ScatterChart width={HEAT_W} height={26} margin={{top:0,right:0,bottom:0,left:0}}>
        {axes(1)}
        <Scatter data={gcCells} shape={cellShape(26)} isAnimationActive={false}/>
      </ScatterChart>
    </div>
    <div style={place(HEAT_X,1411)}>
      <BarChart width={HEAT_W} height={26} data={lengthBars} margin={{top:0,right:0,bottom:0,left:0}}>
        <XAxis type="number" dataKey="x" domain={[0,UNITS]} hide/>
        <YAxis type="number" domain={[0,4.5]} hide/>
        <Bar dataKey="len" fill="#3c3c3c" barSize={COL-1.5} background={{fill:'#dedede'}} isAnimationActive={false}/>
      </BarChart>
    </div>
    <Overlay/>
  </div>;
}
